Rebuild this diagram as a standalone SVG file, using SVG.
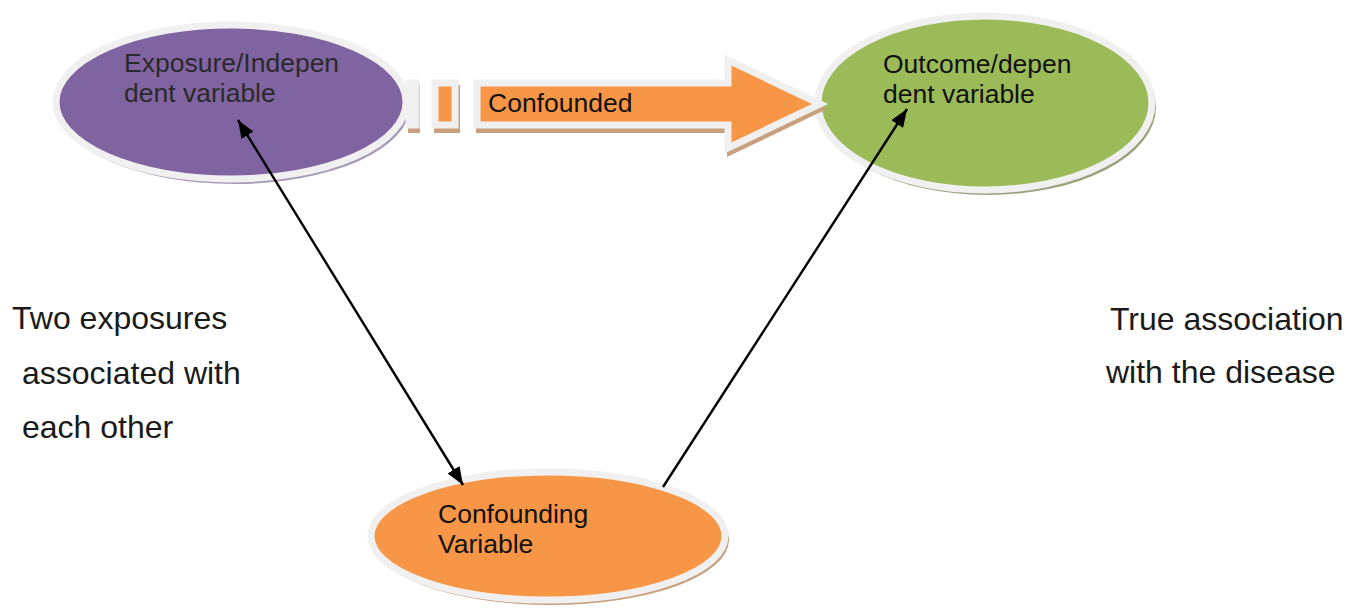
<svg xmlns="http://www.w3.org/2000/svg" width="1359" height="609" viewBox="0 0 1359 609">
<defs>
<style>
.lbl{font-family:"Liberation Sans",Arial,sans-serif;font-size:26.5px;fill:#111}
.side{font-family:"Liberation Sans",Arial,sans-serif;font-size:32px;fill:#1a1a1a}
.rim{stroke:#f0f0f0;stroke-width:7}
.conn{stroke:#000;stroke-width:2.4;fill:none}
</style>
<marker id="ah" viewBox="0 0 18 14" refX="18" refY="7" markerWidth="18" markerHeight="14" markerUnits="userSpaceOnUse" orient="auto-start-reverse">
<path d="M0,0 L18,7 L0,14 Z" fill="#000"/>
</marker>
</defs>
<rect width="1359" height="609" fill="#fff"/>

<g id="node-exposure">
<ellipse cx="234" cy="106" rx="176" ry="78" fill="#a89bb8"/>
<ellipse cx="231" cy="102" rx="175" ry="77" fill="#8064A2" class="rim"/>
<text class="lbl" x="124" y="72" style="fill:#2a2a2a">Exposure/Indepen</text>
<text class="lbl" x="124" y="102" style="fill:#2a2a2a">dent variable</text>
</g>

<g id="node-outcome">
<ellipse cx="988" cy="107" rx="168" ry="88" fill="#9aa27c"/>
<ellipse cx="985" cy="103" rx="167" ry="87" fill="#9BBB59" class="rim"/>
<text class="lbl" x="883" y="73">Outcome/depen</text>
<text class="lbl" x="883" y="103">dent variable</text>
</g>

<g id="node-confounding">
<ellipse cx="551" cy="540" rx="178" ry="65" fill="#c9a07e"/>
<ellipse cx="548" cy="536" rx="177" ry="64" fill="#F79646" class="rim"/>
<text class="lbl" x="438" y="523">Confounding</text>
<text class="lbl" x="438" y="553">Variable</text>
</g>

<g id="arrow-confounded">
<g fill="#c9a07e" transform="translate(2,5)">
<rect x="406" y="80" width="12" height="48"/>
<rect x="432" y="80" width="26" height="48"/>
<polygon points="474,80 725,80 725,56 825,104 725,152 725,128 474,128"/>
</g>
<g fill="#F79646" class="rim" stroke-linejoin="miter">
<rect x="409" y="83" width="7" height="42"/>
<rect x="435" y="83" width="20" height="42"/>
<polygon points="477,83 728,83 728,60 820,104 728,148 728,125 477,125"/>
</g>
<text class="lbl" x="488" y="112">Confounded</text>
</g>

<g id="connectors">
<line class="conn" x1="238" y1="120" x2="463" y2="485" marker-start="url(#ah)" marker-end="url(#ah)"/>
<line class="conn" x1="663" y1="487" x2="907" y2="109" marker-end="url(#ah)"/>
</g>

<g id="side-labels">
<text class="side" x="12" y="329">Two exposures</text>
<text class="side" x="22" y="384">associated with</text>
<text class="side" x="22" y="438">each other</text>
<text class="side" x="1110" y="330">True association</text>
<text class="side" x="1106" y="383">with the disease</text>
</g>
</svg>
